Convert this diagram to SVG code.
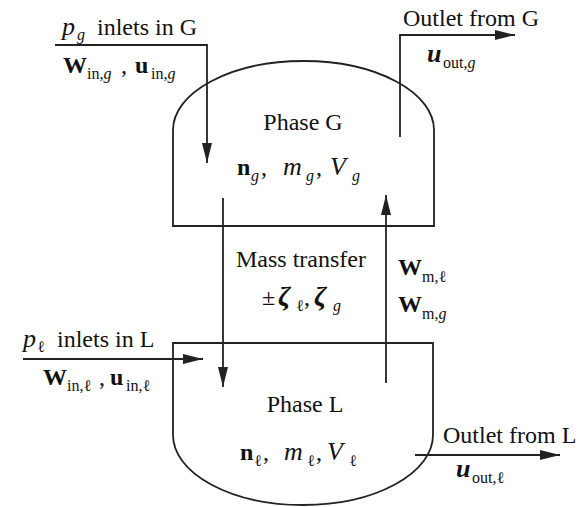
<svg xmlns="http://www.w3.org/2000/svg" width="585" height="507" viewBox="0 0 585 507" font-family="'Liberation Serif','DejaVu Serif',serif">
<style>
text{font-family:"Liberation Serif","DejaVu Serif","Times New Roman",serif;font-size:24px;fill:#111}
.b{font-weight:bold}
.i{font-style:italic}
.v{font-style:italic;font-size:26px}
.z{font-style:italic;font-weight:bold;font-size:28px}
.s{font-size:16px}
.vessel{fill:none;stroke:#222;stroke-width:1.8}
.flow{fill:none;stroke:#222;stroke-width:1.8}
</style>
<defs>
<marker id="ah" markerUnits="userSpaceOnUse" markerWidth="20" markerHeight="10" refX="20" refY="5" orient="auto">
<path d="M0,0 L20,5 L0,10 Z" fill="#222"/>
</marker>
</defs>
<rect width="585" height="507" fill="#fff"/>
<g id="phaseG">
<path class="vessel" d="M173,226 V130 A130.5,69 0 0 1 434,130 V226 Z"/>
<text x="303" y="130" text-anchor="middle">Phase G</text>
<text y="175"><tspan x="237" class="b">n</tspan><tspan x="251" dy="6" class="s i">g</tspan><tspan x="261" dy="-6">,</tspan><tspan x="283" class="v">m</tspan><tspan x="306" dy="6" class="s i">g</tspan><tspan x="316" dy="-6">,</tspan><tspan x="330" class="v">V</tspan><tspan x="352" dy="6" class="s i">g</tspan></text>
</g>
<g id="phaseL">
<path class="vessel" d="M173,343 V435 A130,70 0 0 0 433,435 V343 Z"/>
<text x="305" y="412" text-anchor="middle">Phase L</text>
<text y="460"><tspan x="240" class="b">n</tspan><tspan x="254" dy="6" class="s">ℓ</tspan><tspan x="263" dy="-6">,</tspan><tspan x="284" class="v">m</tspan><tspan x="307" dy="6" class="s">ℓ</tspan><tspan x="316" dy="-6">,</tspan><tspan x="327" class="v">V</tspan><tspan x="349" dy="6" class="s">ℓ</tspan></text>
</g>
<g id="inletG">
<text y="35"><tspan x="62" class="v">p</tspan><tspan x="77" dy="5" class="s i">g</tspan><tspan x="97" dy="-5">inlets in G</tspan></text>
<text y="73"><tspan x="63" class="b">W</tspan><tspan x="87" dy="6" class="s">in,</tspan><tspan class="s i">g</tspan><tspan x="121" dy="-6">,</tspan><tspan x="135" class="b">u</tspan><tspan x="151" dy="6" class="s">in,</tspan><tspan class="s i">g</tspan></text>
</g>
<g id="outletG">
<text x="403" y="26">Outlet from G</text>
<text y="62"><tspan x="427" class="v b">u</tspan><tspan x="443" dy="6" class="s">out,</tspan><tspan class="s i">g</tspan></text>
</g>
<g id="massTransfer">
<text x="301" y="267" text-anchor="middle">Mass transfer</text>
<text y="305"><tspan x="262">±</tspan><tspan x="278" class="z">ζ</tspan><tspan x="296" dy="6" class="s">ℓ</tspan><tspan x="304" dy="-6">,</tspan><tspan x="314" class="z">ζ</tspan><tspan x="333" dy="6" class="s i">g</tspan></text>
<text y="275"><tspan x="398" class="b">W</tspan><tspan x="422" dy="7" class="s">m,ℓ</tspan></text>
<text y="312"><tspan x="398" class="b">W</tspan><tspan x="422" dy="7" class="s">m,</tspan><tspan class="s i">g</tspan></text>
</g>
<g id="inletL">
<text y="347"><tspan x="23" class="v">p</tspan><tspan x="37" dy="5" class="s">ℓ</tspan><tspan x="57" dy="-5">inlets in L</tspan></text>
<text y="385"><tspan x="43" class="b">W</tspan><tspan x="67" dy="6" class="s">in,ℓ</tspan><tspan x="99" dy="-6">,</tspan><tspan x="110" class="b">u</tspan><tspan x="126" dy="6" class="s">in,ℓ</tspan></text>
</g>
<g id="outletL">
<text x="443" y="443">Outlet from L</text>
<text y="477"><tspan x="456" class="v b">u</tspan><tspan x="472" dy="6" class="s">out,ℓ</tspan></text>
</g>
<g id="connectors">
<path class="flow" d="M55,45 H207 V163" marker-end="url(#ah)"/>
<path class="flow" d="M400,137 V35 H515" marker-end="url(#ah)"/>
<path class="flow" d="M223,198 V387" marker-end="url(#ah)"/>
<path class="flow" d="M386,383 V195" marker-end="url(#ah)"/>
<path class="flow" d="M23,359 H203" marker-end="url(#ah)"/>
<path class="flow" d="M415,455 H560" marker-end="url(#ah)"/>
</g>
</svg>
